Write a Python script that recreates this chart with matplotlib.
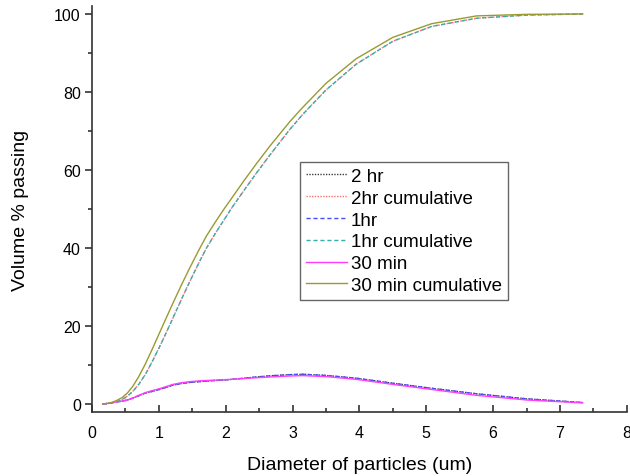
import matplotlib
matplotlib.use("Agg")
import matplotlib.pyplot as plt
from matplotlib.ticker import MultipleLocator

plt.rcParams['font.family'] = ['Liberation Sans', 'DejaVu Sans']

# particle diameter (um)
diameter = [0.16, 0.20, 0.25, 0.30, 0.36, 0.45, 0.53, 0.61, 0.70, 0.80, 0.90,
            1.01, 1.12, 1.21, 1.33, 1.46, 1.60, 1.71, 1.84, 1.96, 2.10, 2.28,
            2.46, 2.66, 2.96, 3.15, 3.50, 3.95, 4.50, 5.08, 5.75, 6.50, 7.34]

# distribution (volume %)
dist_30min = [0.0, 0.05, 0.15, 0.3, 0.5, 0.7, 1.0, 1.5, 2.2, 2.9, 3.4,
              3.9, 4.5, 5.0, 5.4, 5.7, 5.9, 6.0, 6.1, 6.2, 6.3, 6.5,
              6.7, 6.9, 7.15, 7.25, 7.0, 6.3, 5.0, 3.7, 2.2, 1.0, 0.25]
dist_1hr = [0.0, 0.05, 0.15, 0.3, 0.5, 0.7, 1.0, 1.5, 2.1, 2.8, 3.2,
            3.7, 4.3, 4.8, 5.2, 5.5, 5.7, 5.85, 6.0, 6.1, 6.3, 6.6,
            6.9, 7.2, 7.5, 7.6, 7.3, 6.6, 5.3, 4.0, 2.6, 1.3, 0.35]
dist_2hr = [0.0, 0.05, 0.15, 0.3, 0.5, 0.7, 1.0, 1.5, 2.1, 2.8, 3.2,
            3.7, 4.3, 4.8, 5.2, 5.5, 5.7, 5.85, 6.0, 6.1, 6.3, 6.6,
            6.9, 7.2, 7.5, 7.6, 7.3, 6.6, 5.3, 4.0, 2.6, 1.3, 0.35]

# cumulative (volume % passing)
cum_30min = [0.0, 0.05, 0.2, 0.4, 0.8, 1.6, 2.8, 4.5, 7.0, 10.3, 14.0,
             18.2, 22.4, 25.8, 30.2, 34.8, 39.5, 43.0, 46.5, 49.6, 53.0, 57.4,
             61.6, 66.1, 72.4, 76.0, 82.2, 88.5, 94.0, 97.5, 99.5, 99.9, 100.0]
cum_1hr = [0.0, 0.03, 0.12, 0.28, 0.55, 1.1, 2.0, 3.2, 5.0, 7.6, 10.8,
           14.6, 18.6, 22.0, 26.5, 31.3, 36.2, 39.9, 43.6, 46.8, 50.5, 54.9,
           59.2, 63.8, 70.4, 74.2, 80.5, 87.1, 93.0, 96.8, 98.9, 99.7, 100.0]
cum_2hr = [0.0, 0.03, 0.12, 0.28, 0.55, 1.1, 2.0, 3.2, 5.0, 7.6, 10.8,
           14.6, 18.6, 22.0, 26.5, 31.3, 36.2, 39.9, 43.6, 46.8, 50.5, 54.9,
           59.2, 63.8, 70.4, 74.2, 80.5, 87.1, 93.0, 96.8, 98.9, 99.7, 100.0]

labels = ["2 hr", "2hr cumulative", "1hr", "1hr cumulative", "30 min", "30 min cumulative"]

fig = plt.figure(figsize=(6.30, 4.77), dpi=100)
ax = fig.add_axes([0.146, 0.134, 0.849, 0.851])

ax.plot(diameter, dist_2hr, color="#404040", ls=(0, (1, 1)), lw=1.0, label=labels[0])
ax.plot(diameter, cum_2hr, color="#ff6f6f", ls=(0, (1, 1)), lw=1.0, label=labels[1])
ax.plot(diameter, dist_1hr, color="#4a4aff", ls=(0, (3, 2)), lw=1.0, label=labels[2])
ax.plot(diameter, cum_1hr, color="#3aabab", ls=(0, (3, 2)), lw=1.0, label=labels[3])
ax.plot(diameter, dist_30min, color="#ff3cff", ls="-", lw=1.0, label=labels[4])
ax.plot(diameter, cum_30min, color="#9a9a30", ls="-", lw=1.0, label=labels[5])

ax.set_xlim(0, 8)
ax.set_ylim(-2.1, 102)
ax.xaxis.set_major_locator(MultipleLocator(1))
ax.xaxis.set_minor_locator(MultipleLocator(0.5))
ax.yaxis.set_major_locator(MultipleLocator(20))
ax.yaxis.set_minor_locator(MultipleLocator(10))

for s in ["top", "right"]:
    ax.spines[s].set_visible(False)
for s in ["left", "bottom"]:
    ax.spines[s].set_linewidth(1.2)
    ax.spines[s].set_color("#333333")

ax.tick_params(axis="x", which="major", direction="in", length=5, width=1.2, labelsize=11.5, pad=9, colors="#333333", labelcolor="black")
ax.tick_params(axis="x", which="minor", direction="in", length=3, width=1.2, colors="#333333")
ax.tick_params(axis="y", which="major", direction="out", length=5, width=1.2, labelsize=11.5, pad=3, colors="#333333", labelcolor="black")
ax.tick_params(axis="y", which="minor", direction="out", length=3, width=1.2, colors="#333333")

ax.set_xlabel("Diameter of particles (um)", fontsize=14, labelpad=12)
ax.set_ylabel("Volume % passing", fontsize=14, labelpad=18)

leg = ax.legend(loc="upper left", bbox_to_anchor=(0.388, 0.617), fontsize=13.5,
                handlelength=2.2, labelspacing=0.25, handletextpad=0.2,
                borderpad=0.33, borderaxespad=0, fancybox=False, framealpha=1)
leg.get_frame().set_edgecolor("#666666")
leg.get_frame().set_linewidth(1.0)

fig.savefig("out.png", dpi=100)
